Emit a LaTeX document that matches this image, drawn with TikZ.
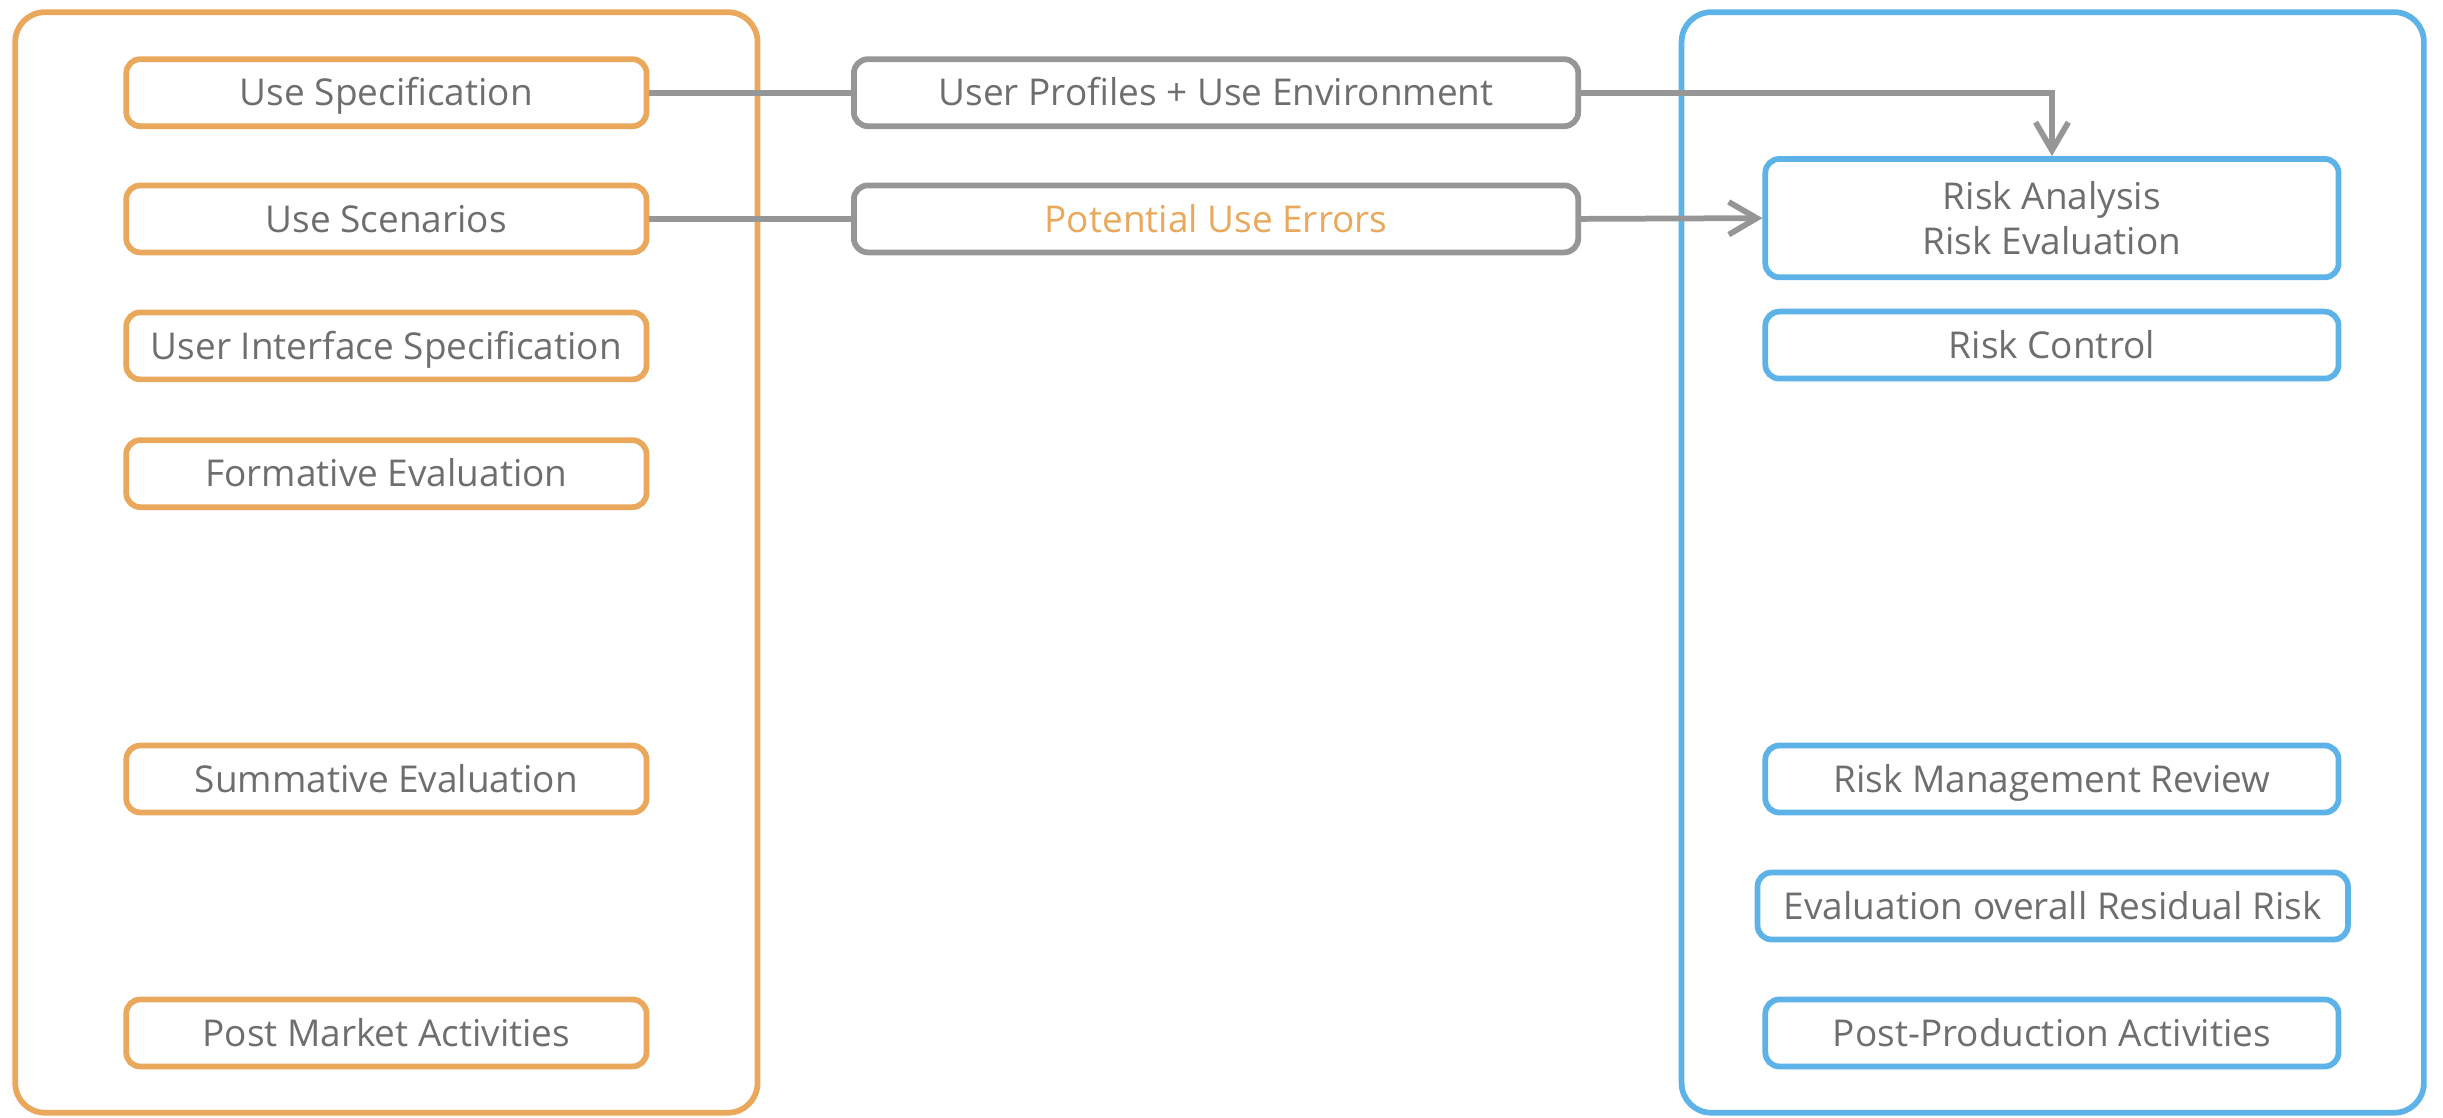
\documentclass[tikz,border=0pt]{standalone}
\usepackage{fontspec}
\setmainfont{Open Sans}
\usetikzlibrary{arrows.meta}
\definecolor{ueorange}{RGB}{233,168,91}
\definecolor{rmblue}{RGB}{93,179,232}
\definecolor{linkgray}{RGB}{150,150,150}
\definecolor{txtgray}{RGB}{110,110,110}

\begin{document}
\begin{tikzpicture}[x=0.02cm, y=-0.02cm,
  lane/.style={draw, line width=2.1pt, rounded corners=0.38cm, minimum width=9.53cm, minimum height=14.13cm},
  item/.style={draw, line width=2.1pt, rounded corners=0.18cm, minimum height=0.86cm, inner sep=0pt,
    text height=11pt, text depth=1.4pt, text=txtgray, align=center, font=\fontsize{13.5}{16.5}\selectfont},
  usebox/.style={item, draw=ueorange, minimum width=6.68cm},
  flowbox/.style={item, draw=linkgray, minimum width=9.3cm},
  riskbox/.style={item, draw=rmblue, minimum width=7.36cm},
  link/.style={draw=linkgray, line width=2.1pt},
  tip/.style={-{Straight Barb[length=0.36cm, width=0.42cm]}}]
\useasboundingbox (0,0) rectangle (1568,717.5);
% the two process frames
\node[lane, draw=ueorange] (usability) at (248,361) {};
\node[lane, draw=rmblue] (riskmgmt) at (1317.5,361) {};
% usability engineering steps
\foreach \name/\y/\txt in {spec/59.5/Use Specification, scen/140.5/Use Scenarios,
  uis/222/User Interface Specification, form/304/Formative Evaluation,
  summ/500/Summative Evaluation, post/663/Post Market Activities}
  \node[usebox] (\name) at (248,\y) {\txt};
% risk management steps
\node[riskbox, minimum height=1.52cm, text height=, text depth=] (ana) at (1317,140) {Risk Analysis\\Risk Evaluation};
\foreach \name/\y/\txt in {ctrl/221.5/Risk Control, rev/500/Risk Management Review,
  prod/663/Post-Production Activities}
  \node[riskbox] (\name) at (1317,\y) {\txt};
\node[riskbox, minimum width=7.58cm] (resid) at (1317.5,581.5) {Evaluation overall Residual Risk};
% what flows between them
\node[flowbox] (prof) at (780.5,59.5) {User Profiles + Use Environment};
\node[flowbox, text=ueorange] (errs) at (780.5,140.5) {Potential Use Errors};
\draw[link] (spec) -- (prof);
\draw[link, tip] (prof) -| (ana);
\draw[link] (scen) -- (errs);
\draw[link, tip] (errs.east) -- (ana.west);
\end{tikzpicture}
\end{document}
